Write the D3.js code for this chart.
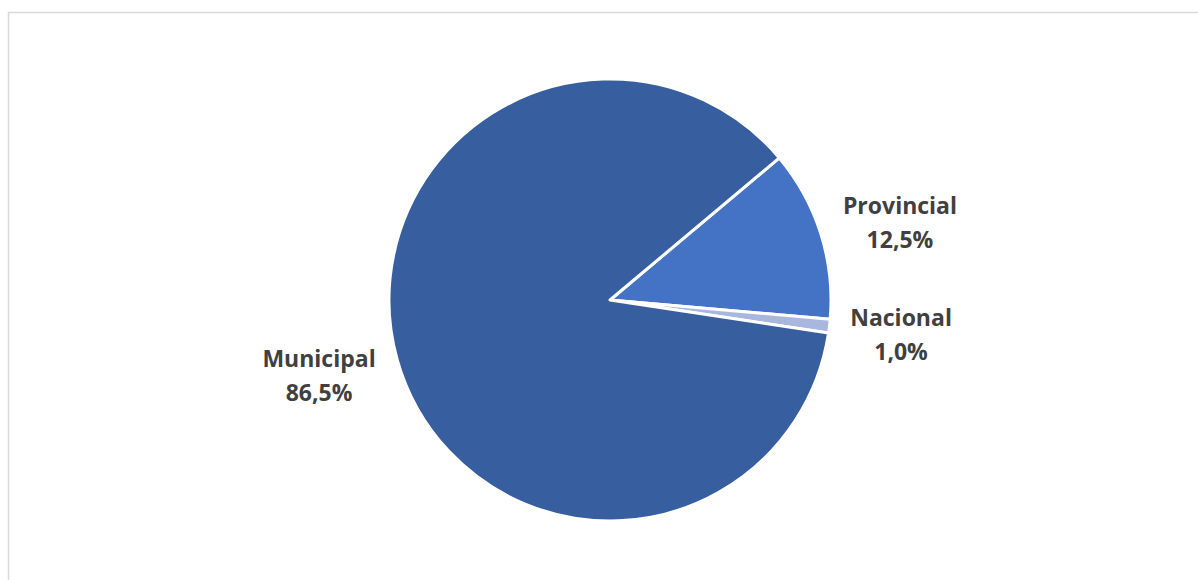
<!DOCTYPE html>
<html>
<head>
<meta charset="utf-8">
<script src="https://cdn.jsdelivr.net/npm/d3@7/dist/d3.min.js"></script>
<style>
  html, body { margin: 0; padding: 0; background: #fff; }
  svg { display: block; }
</style>
</head>
<body>
<svg id="chart" width="1198" height="580"></svg>
<script>
// Share of schools by administrative level
const categories = ["Provincial", "Nacional", "Municipal"];
const values = [12.5, 1.0, 86.5];
const valueLabels = ["12,5%", "1,0%", "86,5%"];
const colors = ["#4472C4", "#A9B7DE", "#375E9F"];

const svg = d3.select("#chart");
const W = 1198, H = 580;

// chart frame
svg.append("rect")
  .attr("x", 8.5).attr("y", 12.5)
  .attr("width", W + 10).attr("height", H + 10)
  .attr("fill", "#fff")
  .attr("stroke", "#D9D9D9")
  .attr("stroke-width", 1.5);

const cx = 610, cy = 300, r = 221;
const g = svg.append("g").attr("transform", `translate(${cx},${cy})`);

const pie = d3.pie().sort(null)
  .startAngle(50 * Math.PI / 180)
  .endAngle(50 * Math.PI / 180 + 2 * Math.PI)
  .value(d => d);
const arcs = pie(values);
const arc = d3.arc().innerRadius(0).outerRadius(r);

g.selectAll("path.slice")
  .data(arcs)
  .join("path")
  .attr("class", "slice")
  .attr("d", arc)
  .attr("fill", (d, i) => colors[i])
  .attr("stroke", "#fff")
  .attr("stroke-width", 3)
  .attr("stroke-linejoin", "round");

// outside-end labels: block placed along the slice's middle angle,
// pushed a little further out where the angle is off the horizontal
const lineGap = 34;
const labels = g.selectAll("g.lbl")
  .data(arcs)
  .join("g")
  .attr("class", "lbl")
  .attr("transform", d => {
    const a = (d.startAngle + d.endAngle) / 2;
    const c = -Math.cos(a);
    const lr = 286 + 60 * Math.abs(c);
    let x = Math.sin(a) * lr;
    let y = c * lr;
    if (c < -0.2) y += 14;
    else if (c > 0.2) y -= 6;
    return `translate(${x},${y})`;
  });

labels.append("text")
  .attr("text-anchor", "middle")
  .attr("font-family", "'Open Sans', 'DejaVu Sans', sans-serif")
  .attr("font-weight", "bold")
  .attr("font-size", 23)
  .attr("fill", "#404040")
  .attr("y", -lineGap / 2)
  .attr("dy", "0.35em")
  .text((d, i) => categories[i]);

labels.append("text")
  .attr("text-anchor", "middle")
  .attr("font-family", "'Open Sans', 'DejaVu Sans', sans-serif")
  .attr("font-weight", "bold")
  .attr("font-size", 23)
  .attr("fill", "#404040")
  .attr("y", lineGap / 2)
  .attr("dy", "0.35em")
  .text((d, i) => valueLabels[i]);
</script>
</body>
</html>
